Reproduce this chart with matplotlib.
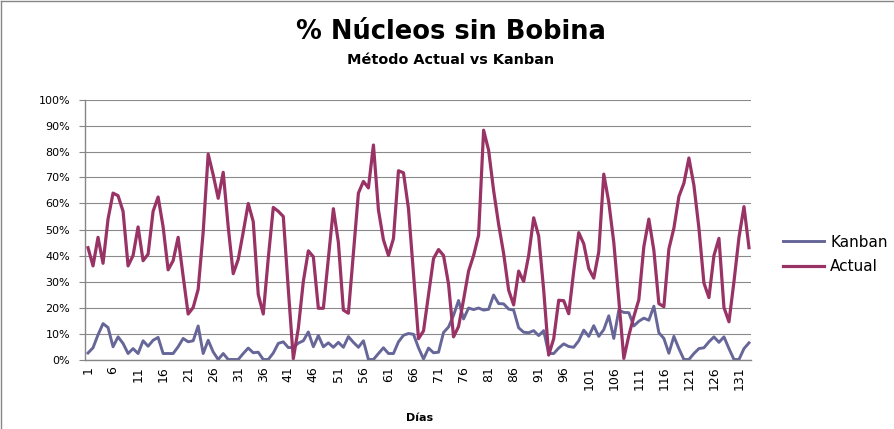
import matplotlib
matplotlib.use('Agg')
import matplotlib.pyplot as plt
import numpy as np
from matplotlib.ticker import PercentFormatter

plt.rcParams['font.family'] = ['DejaVu Sans']

title = '% Núcleos sin Bobina'
subtitle = 'Método Actual vs Kanban'
x_label = 'Días'

# % de núcleos sin bobina por día
kanban = [2.5, 4.5, 9.5, 13.8, 12.3, 4.9, 8.7, 6.2, 2.3, 4.2,
          2.3, 7.2, 5.1, 7.4, 8.5, 2.3, 2.3, 2.3, 4.9, 8.1,
          6.8, 7.2, 12.9, 2.3, 7.4, 2.9, 0, 2.3, 0, 0,
          0, 2.3, 4.4, 2.6, 2.8, 0, 0, 2.5, 6.2, 6.8,
          4.6, 4.6, 6.3, 7.2, 10.6, 4.9, 9.2, 4.9, 6.4, 4.7,
          6.6, 4.7, 8.8, 6.6, 4.7, 7.2, 0, 0, 2.3, 4.5,
          2.3, 2.3, 6.8, 9.3, 10, 9.7, 4.5, 0.2, 4.4, 2.6,
          2.8, 10.4, 12.5, 17, 22.7, 15.6, 19.8, 19.2, 19.8, 19,
          19.3, 24.8, 21.5, 21.4, 19.4, 19, 12.2, 10.5, 10.3, 11.1,
          9.2, 11.1, 2.3, 2.3, 4.4, 6, 5, 4.7, 7.2, 11.3,
          8.9, 13, 8.9, 11.5, 16.8, 8.1, 19, 18.1, 18, 12.9,
          14.7, 15.9, 15.1, 20.5, 10.3, 8.1, 2.4, 8.9, 4.2, 0,
          0, 2.3, 4.2, 4.5, 6.8, 8.7, 6.6, 8.7, 4.2, 0,
          0, 4.2, 6.4]
actual = [43, 36, 47, 37, 54, 64, 63, 57, 36, 40,
          51, 38, 40.5, 57, 62.5, 51, 34.5, 38, 47, 32,
          17.5, 20, 27, 49, 79, 71, 62, 72, 51, 33,
          38.5, 49, 60, 53, 25, 17.5, 39, 58.5, 57, 55,
          27, 0.3, 12, 30, 41.8, 39.5, 19.7, 19.7, 39, 58,
          45, 19, 17.8, 41, 64, 68.5, 66, 82.5, 57.5, 46,
          40, 46.5, 72.6, 71.8, 58, 33, 8, 11, 25, 38.8,
          42.3, 40, 29, 8.7, 12.7, 23, 34, 40, 47.8, 88.2,
          80.5, 65, 52, 40.8, 26.7, 21, 34, 30, 40, 54.5,
          47.5, 26.7, 1.7, 8, 22.8, 22.6, 17.6, 34, 48.8, 44.5,
          35, 31.3, 41.4, 71.3, 60.5, 45, 23, 0.4, 9.2, 16.5,
          23, 43.4, 54, 42, 21.5, 20.3, 42.5, 50.5, 62.7, 67.8,
          77.5, 67, 50.5, 29.4, 23.8, 40, 46.6, 20, 14.5, 30,
          47, 58.8, 43]
dias = np.arange(1, len(actual) + 1)
dia_ticks = np.arange(1, len(actual) + 1, 5)

fig = plt.figure(figsize=(8.95, 4.29), dpi=100)
ax = fig.add_axes([85.5 / 895, 1 - 359.5 / 429, 666 / 895, 260 / 429])

ax.plot(dias, np.array(kanban) / 100, color='#666699', lw=2.1, label='Kanban')
ax.plot(dias, np.array(actual) / 100, color='#993366', lw=2.3, label='Actual')

ax.set_xlim(0.5, len(actual) + 0.5)
ax.set_ylim(0, 1)
ax.set_yticks(np.arange(0, 1.01, 0.1))
ax.yaxis.set_major_formatter(PercentFormatter(1.0, decimals=0))
ax.set_xticks(dia_ticks)
ax.set_xticklabels([str(d) for d in dia_ticks], rotation=90)
ax.tick_params(axis='y', length=4.5, width=0.8, color='#868686', pad=6.5, labelsize=8)
ax.tick_params(axis='x', length=0, pad=5, labelsize=9)
ax.grid(axis='y', color='#8a8a8a', lw=0.8)
ax.set_axisbelow(True)
for side in ('top', 'right'):
    ax.spines[side].set_visible(False)
for side in ('left', 'bottom'):
    ax.spines[side].set_color('#868686')
    ax.spines[side].set_linewidth(1.0)

fig.text(450.5 / 895, 1 - 32 / 429, title, ha='center', va='center',
         fontsize=18.5, fontweight='bold')
fig.text(451 / 895, 1 - 60 / 429, subtitle, ha='center', va='center',
         fontsize=10.4, fontweight='bold')
fig.text(420 / 895, 1 - 418 / 429, x_label, ha='center', va='center',
         fontsize=8, fontweight='bold')

fig.legend(loc='center left', bbox_to_anchor=(782.7 / 895, 1 - 254.5 / 429),
           frameon=False, fontsize=11, handlelength=2.7, handletextpad=0.4,
           labelspacing=0.64, borderpad=0, borderaxespad=0)

# borde del area del grafico
fig.add_artist(plt.Line2D([0.001, 0.999], [0.998, 0.998], color='#868686', lw=1.0))
fig.add_artist(plt.Line2D([0.001, 0.001], [0.0, 0.998], color='#868686', lw=1.0))

fig.savefig('out.png', dpi=100)
